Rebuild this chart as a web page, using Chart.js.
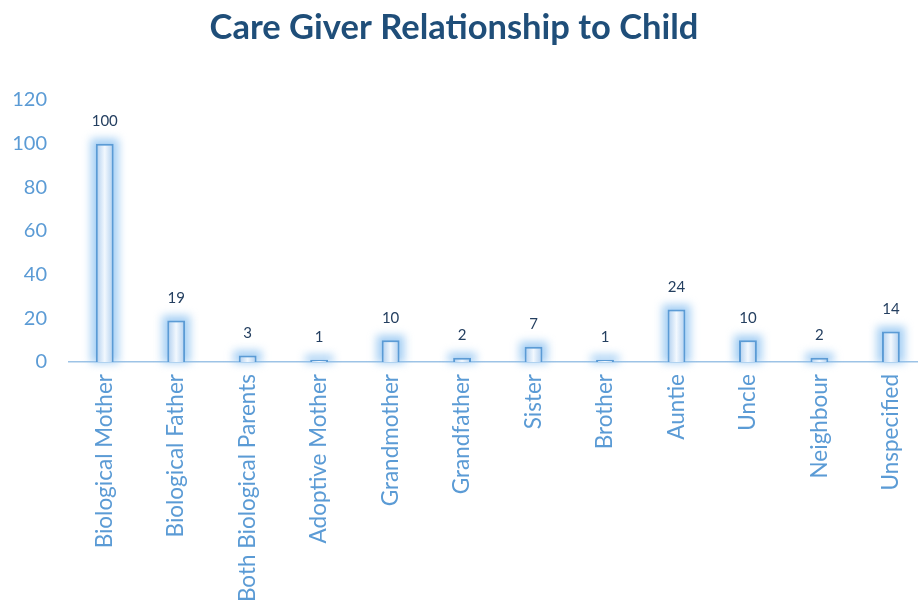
<!DOCTYPE html>
<html>
<head>
<meta charset="utf-8">
<script src="https://cdn.jsdelivr.net/npm/chart.js@4.4.1/dist/chart.umd.min.js"></script>
<style>
  html, body { margin: 0; padding: 0; background: #fff; overflow: hidden; }
  #wrap { width: 930px; height: 601px; }
</style>
</head>
<body>
<div id="wrap"><canvas id="c"></canvas></div>
<script>
const categories = ['Biological Mother', 'Biological Father', 'Both Biological Parents', 'Adoptive Mother',
  'Grandmother', 'Grandfather', 'Sister', 'Brother', 'Auntie', 'Uncle', 'Neighbour', 'Unspecified'];
const counts = [100, 19, 3, 1, 10, 2, 7, 1, 24, 10, 2, 14];
const yTicks = [0, 20, 40, 60, 80, 100, 120];
const title = 'Care Giver Relationship to Child';

const FONT = 'Lato, "Open Sans", sans-serif';
const BLUE = '#5B9BD5';

// title centred on the visible 918px window, not the wider canvas
const titlePlugin = {
  id: 'pageTitle',
  afterDraw: (chart) => {
    const ctx = chart.ctx;
    ctx.save();
    ctx.font = 'bold 34.5px ' + FONT;
    ctx.fillStyle = '#1F4E79';
    ctx.textAlign = 'center';
    ctx.textBaseline = 'alphabetic';
    ctx.fillText(title, 454, 39);
    ctx.restore();
  }
};

// soft glow behind the bars, drawn blurred under each one
const glow = {
  id: 'glow',
  beforeDatasetsDraw: (chart) => {
    const ctx = chart.ctx;
    const meta = chart.getDatasetMeta(0);
    ctx.save();
    ctx.filter = 'blur(4px)';
    ctx.fillStyle = 'rgba(130,188,240,0.7)';
    meta.data.forEach(bar => {
      const p = bar.getProps(['x', 'y', 'base', 'width'], true);
      ctx.fillRect(p.x - p.width / 2 - 5, p.y - 5, p.width + 10, p.base - p.y + 6);
    });
    ctx.restore();
  }
};

// value labels above each bar
const valueLabels = {
  id: 'valueLabels',
  afterDatasetsDraw: (chart) => {
    const ctx = chart.ctx;
    const meta = chart.getDatasetMeta(0);
    ctx.save();
    ctx.font = '15px ' + FONT;
    ctx.fillStyle = '#243F60';
    ctx.textAlign = 'center';
    ctx.textBaseline = 'bottom';
    meta.data.forEach((bar, i) => {
      ctx.fillText(counts[i], bar.x, bar.y - 15);
    });
    ctx.restore();
  }
};

const barFill = (c) => {
  const chart = c.chart;
  const xs = chart.scales.x;
  if (!xs || c.dataIndex === undefined) return '#DEEBF7';
  const x = xs.getPixelForValue(c.dataIndex);
  if (!isFinite(x)) return '#DEEBF7';
  const g = chart.ctx.createLinearGradient(x - 9, 0, x + 9, 0);
  g.addColorStop(0, '#ADCDEE');
  g.addColorStop(0.5, '#F2F8FE');
  g.addColorStop(1, '#ADCDEE');
  return g;
};

new Chart(document.getElementById('c'), {
  type: 'bar',
  data: {
    labels: categories,
    datasets: [{
      data: counts,
      backgroundColor: barFill,
      borderColor: BLUE,
      borderWidth: 2,
      barPercentage: 0.5,
      categoryPercentage: 0.5
    }]
  },
  options: {
    responsive: true,
    maintainAspectRatio: false,
    animation: false,
    layout: { padding: { left: 0, right: 3, top: 100, bottom: 0 } },
    plugins: {
      legend: { display: false },
      tooltip: { enabled: false },
      title: { display: false }
    },
    scales: {
      x: {
        grid: { display: false, drawTicks: false },
        border: { display: true, color: '#9DC3E6', width: 1.5 },
        ticks: {
          color: BLUE,
          font: { family: FONT, size: 22.5 },
          maxRotation: 90,
          minRotation: 90,
          padding: 12,
          autoSkip: false
        },
        afterFit: (s) => { s.height = 239; }
      },
      y: {
        min: 0,
        max: 120,
        afterBuildTicks: (s) => { s.ticks = yTicks.map(v => ({ value: v })); },
        grid: { display: false, drawTicks: false },
        border: { display: false },
        ticks: {
          color: BLUE,
          font: { family: FONT, size: 20 },
          padding: 22
        },
        afterFit: (s) => { s.width = 69; }
      }
    }
  },
  plugins: [glow, valueLabels, titlePlugin]
});
</script>
</body>
</html>
